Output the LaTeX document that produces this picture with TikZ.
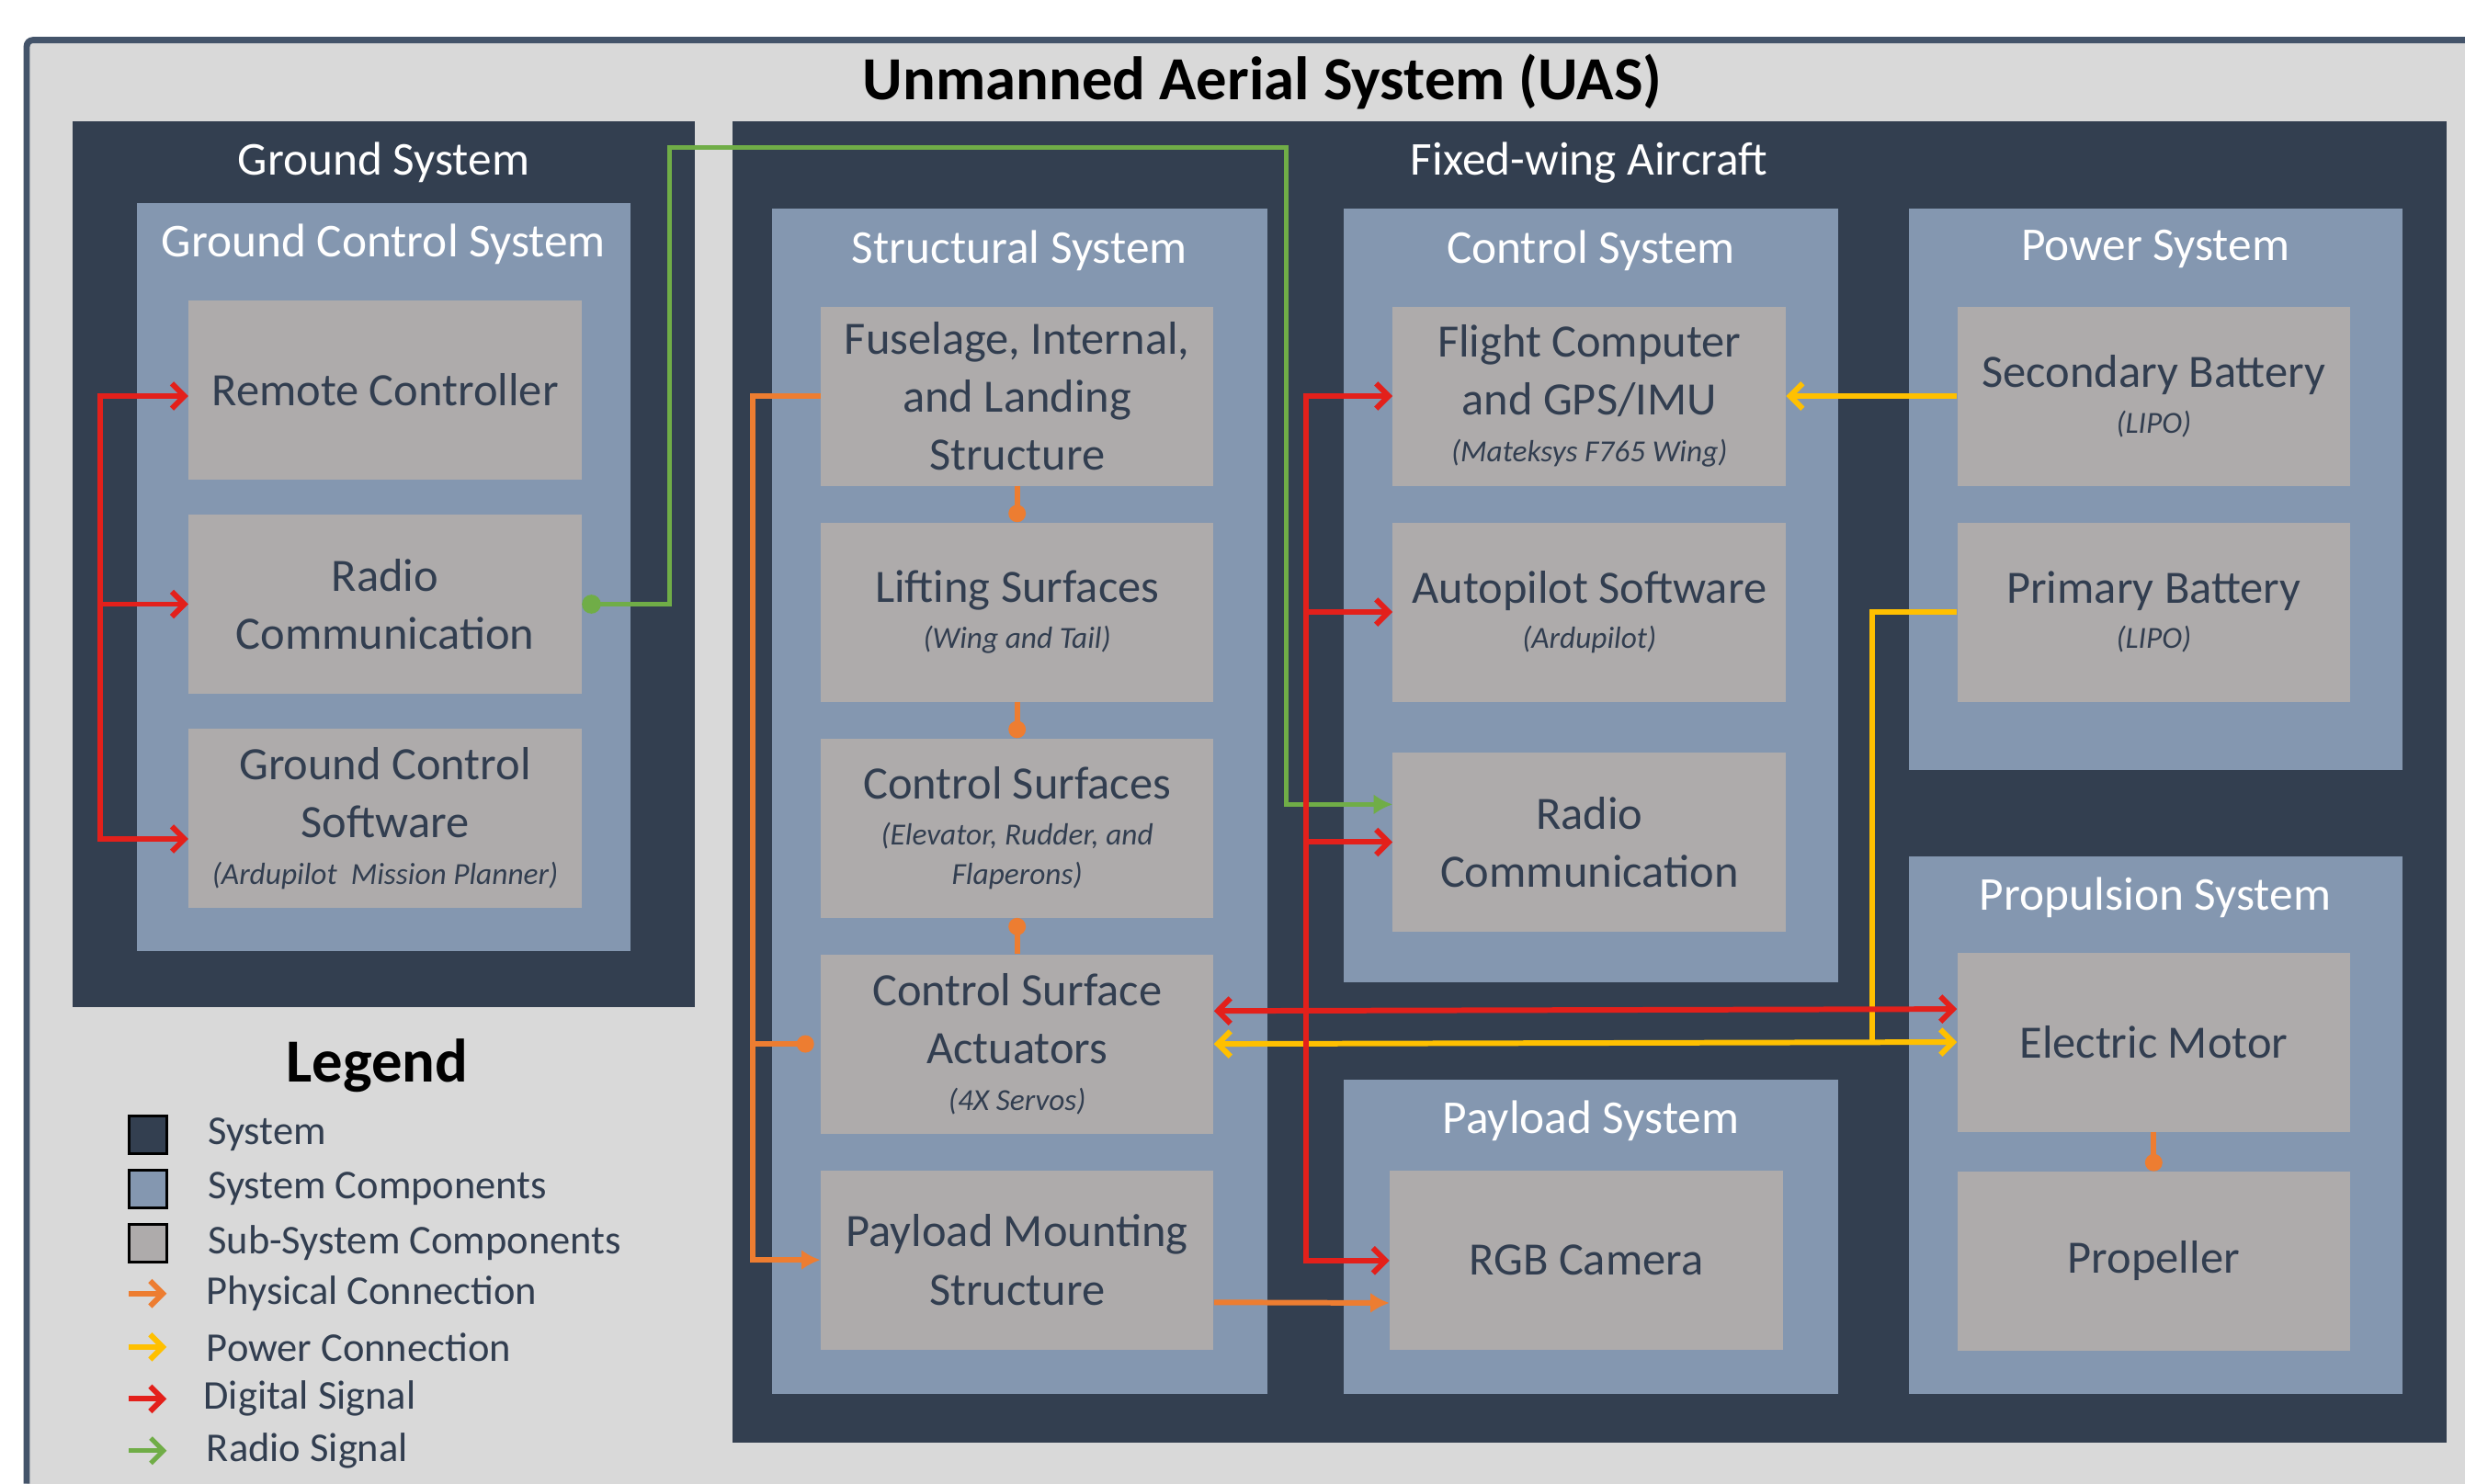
\documentclass[tikz,border=0pt]{standalone}
\usepackage{fontspec}
\setmainfont{Carlito}
\usetikzlibrary{arrows.meta,positioning}

\definecolor{bggray}{HTML}{D9D9D9}
\definecolor{framecol}{HTML}{44546A}
\definecolor{sysdark}{HTML}{333F50}
\definecolor{compblue}{HTML}{8497B0}
\definecolor{subgray}{HTML}{AEABAB}
\definecolor{txtdark}{HTML}{323E50}
\definecolor{physor}{HTML}{ED7D31}
\definecolor{powyel}{HTML}{FFC000}
\definecolor{digred}{HTML}{E3201B}
\definecolor{radgrn}{HTML}{70AD47}

\newcommand{\subnote}[1]{{\fontsize{19.5}{25}\selectfont\itshape #1}}

\begin{document}
\begin{tikzpicture}[
    x=1pt, y=-1pt,
    node distance=23pt,
    >={Straight Barb[length=8pt, width=16pt]},
    panel/.style={anchor=north west, inner sep=0pt, outer sep=0pt},
    sysbox/.style={panel, fill=sysdark},
    compbox/.style={panel, fill=compblue},
    subbox/.style={fill=subgray, align=center, minimum width=250pt, minimum height=114pt, inner sep=1pt, text=txtdark, font=\fontsize{29.5}{37}\selectfont},
    grplab/.style={text=white, font=\fontsize{30}{36}\selectfont},
    dig/.style={draw=digred, line width=3.5pt},
    pow/.style={draw=powyel, line width=3.5pt},
    phys/.style={draw=physor, line width=3.5pt},
    rad/.style={draw=radgrn, line width=3pt},
    dot/.style={-{Circle[length=11pt]}},
    blob/.style={-{Latex[length=12pt, width=13pt]}},
    legsq/.style={draw=black, line width=1.5pt, minimum size=24pt, inner sep=0pt},
    legtxt/.style={anchor=west, text=txtdark, font=\fontsize{26}{30}\selectfont}
  ]
    \useasboundingbox (0,0) rectangle (1568,944);
    \fill[white] (0,0) rectangle (1568,944);
    \fill[bggray] (17,25) rectangle (1568,944);
    \draw[framecol, line width=4pt, rounded corners=4pt] (1568,25.5) -- (17,25.5) -- (17,944);

    \node[font=\bfseries\fontsize{39}{46}\selectfont, text=black] (title) at (803,52) {Unmanned Aerial System (UAS)};

    % ground side
    \node[sysbox, minimum width=396pt, minimum height=564pt] (gsys) at (46,77) {};
    \node[grplab, below=10pt of gsys.north] (gsyslab) {Ground System};
    \node[compbox, minimum width=314pt, minimum height=476pt] (gcs) at (87,129) {};
    \node[grplab, below=10pt of gcs.north] (gcslab) {Ground Control System};
    \node[subbox] (rc) at (245,248) {Remote Controller};
    \node[subbox, below=22pt of rc] (gradio) {Radio\\Communication};
    \node[subbox, below=22pt of gradio] (gcsw) {Ground Control\\Software\\[-7pt]\subnote{(Ardupilot\ \ Mission Planner)}};

    % aircraft
    \node[sysbox, minimum width=1090pt, minimum height=841pt] (fwa) at (466,77) {};
    \node[grplab, below=10pt of fwa.north] (fwalab) {Fixed-wing Aircraft};

    \node[compbox, minimum width=315pt, minimum height=754pt] (struct) at (491,133) {};
    \node[grplab, below=10pt of struct.north] (structlab) {Structural System};
    \node[subbox] (fus) at (647,252) {Fuselage, Internal,\\and Landing\\Structure};
    \node[subbox, below=of fus] (lift) {Lifting Surfaces\\[-8pt]\subnote{(Wing and Tail)}};
    \node[subbox, below=of lift] (csurf) {Control Surfaces\\[-8pt]\subnote{(Elevator, Rudder, and}\\[-12pt]\subnote{Flaperons)}};
    \node[subbox, below=of csurf] (act) {Control Surface\\Actuators\\[-7pt]\subnote{(4X Servos)}};
    \node[subbox, below=of act] (pms) {Payload Mounting\\Structure};

    \node[compbox, minimum width=314pt, minimum height=492pt] (ctrl) at (855,133) {};
    \node[grplab, below=10pt of ctrl.north] (ctrllab) {Control System};
    \node[subbox] (fc) at (1011,252) {Flight Computer\\and GPS/IMU\\[-7pt]\subnote{(Mateksys F765 Wing)}};
    \node[subbox, below=of fc] (ap) {Autopilot Software\\[-8pt]\subnote{(Ardupilot)}};
    \node[subbox, below=32pt of ap] (aradio) {Radio\\Communication};

    \node[compbox, minimum width=314pt, minimum height=200pt] (payl) at (855,687) {};
    \node[grplab, below=10pt of payl.north] (payllab) {Payload System};
    \node[subbox] (cam) at (1009,802) {RGB Camera};

    \node[compbox, minimum width=314pt, minimum height=357pt] (power) at (1214,133) {};
    \node[grplab, below=10pt of power.north] (powerlab) {Power System};
    \node[subbox] (sbat) at (1370,252) {Secondary Battery\\[-8pt]\subnote{(LIPO)}};
    \node[subbox, below=of sbat] (pbat) {Primary Battery\\[-8pt]\subnote{(LIPO)}};

    \node[compbox, minimum width=314pt, minimum height=342pt] (prop) at (1214,545) {};
    \node[grplab, below=10pt of prop.north] (proplab) {Propulsion System};
    \node[subbox] (motor) at (1370,663) {Electric Motor};
    \node[subbox, below=25pt of motor] (propl) {Propeller};

    % physical links
    \coordinate (obus) at (479,0);
    \draw[phys, blob] (fus.west) -- (fus.west -| obus) -- (pms.west -| obus) -- (pms.west);
    \draw[phys, dot] (act.west -| obus) -- ([xshift=-4pt]act.west);
    \draw[phys, blob] ([yshift=-27pt]pms.east) -- ([yshift=-27pt]cam.west);
    \draw[phys, dot] (fus.south) -- (lift.north);
    \draw[phys, dot] (lift.south) -- (csurf.north);
    \draw[phys, dot] (act.north) -- (csurf.south);
    \draw[phys, dot] (motor.south) -- (propl.north);

    % radio link
    \coordinate (gleft) at (426,94);
    \coordinate (gright) at (818,94);
    \draw[rad, {Circle[length=12pt]}-{Latex[length=12pt, width=13pt]}] (gradio.east) -| (gleft) -- (gright) |- ([yshift=24pt]aradio.west);

    % power links
    \coordinate (ybus) at (1191,0);
    \draw[pow, ->] (sbat.west) -- (fc.east);
    \draw[pow] (pbat.west) -| (ybus |- act.east);
    \draw[pow, <->] (act.east) -- (motor.west);

    % digital links
    \coordinate (gbus) at (64,0);
    \draw[dig, <->] ([yshift=-4pt]rc.west) -- ([yshift=-4pt]rc.west -| gbus) -- ([yshift=-13pt]gcsw.west -| gbus) -- ([yshift=-13pt]gcsw.west);
    \draw[dig, ->] (gradio.west -| gbus) -- (gradio.west);
    \coordinate (abus) at (831,0);
    \draw[dig, <->] (fc.west) -- (fc.west -| abus) -- (cam.west -| abus) -- (cam.west);
    \draw[dig, ->] (ap.west -| abus) -- (ap.west);
    \draw[dig, ->] (aradio.west -| abus) -- (aradio.west);
    \draw[dig, <->] ([yshift=21pt]act.east) -- ([yshift=21pt]motor.west);

    % legend
    \node[font=\bfseries\fontsize{39}{44}\selectfont, text=black] (leg) at (240,678) {Legend};
    \node[legsq, fill=sysdark] (lsys) at (94,722) {};
    \node[legsq, fill=compblue, below=9pt of lsys] (lcomp) {};
    \node[legsq, fill=subgray, below=9pt of lcomp] (lsub) {};
    \node[legtxt, right=22pt of lsys] (lsyst) {System};
    \node[legtxt, right=22pt of lcomp] (lcompt) {System Components};
    \node[legtxt, right=22pt of lsub] (lsubt) {Sub-System Components};
    \node[legtxt] (lphyst) at (128,823) {Physical Connection};
    \node[legtxt] (lpowt) at (128,857) {Power Connection};
    \node[legtxt] (ldigt) at (126,890) {Digital Signal};
    \node[legtxt] (lradt) at (128,923) {Radio Signal};
    \coordinate (lphys) at (82,823);
    \coordinate (lpow) at (82,857);
    \coordinate (ldig) at (82,890);
    \coordinate (lrad) at (82,923);
    \draw[phys, ->] (lphys) -- ([xshift=-22pt]lphyst.west);
    \draw[pow, ->] (lpow) -- ([xshift=-22pt]lpowt.west);
    \draw[dig, ->] (ldig) -- ([xshift=-20pt]ldigt.west);
    \draw[rad, ->] (lrad) -- ([xshift=-22pt]lradt.west);
  \end{tikzpicture}
\end{document}
